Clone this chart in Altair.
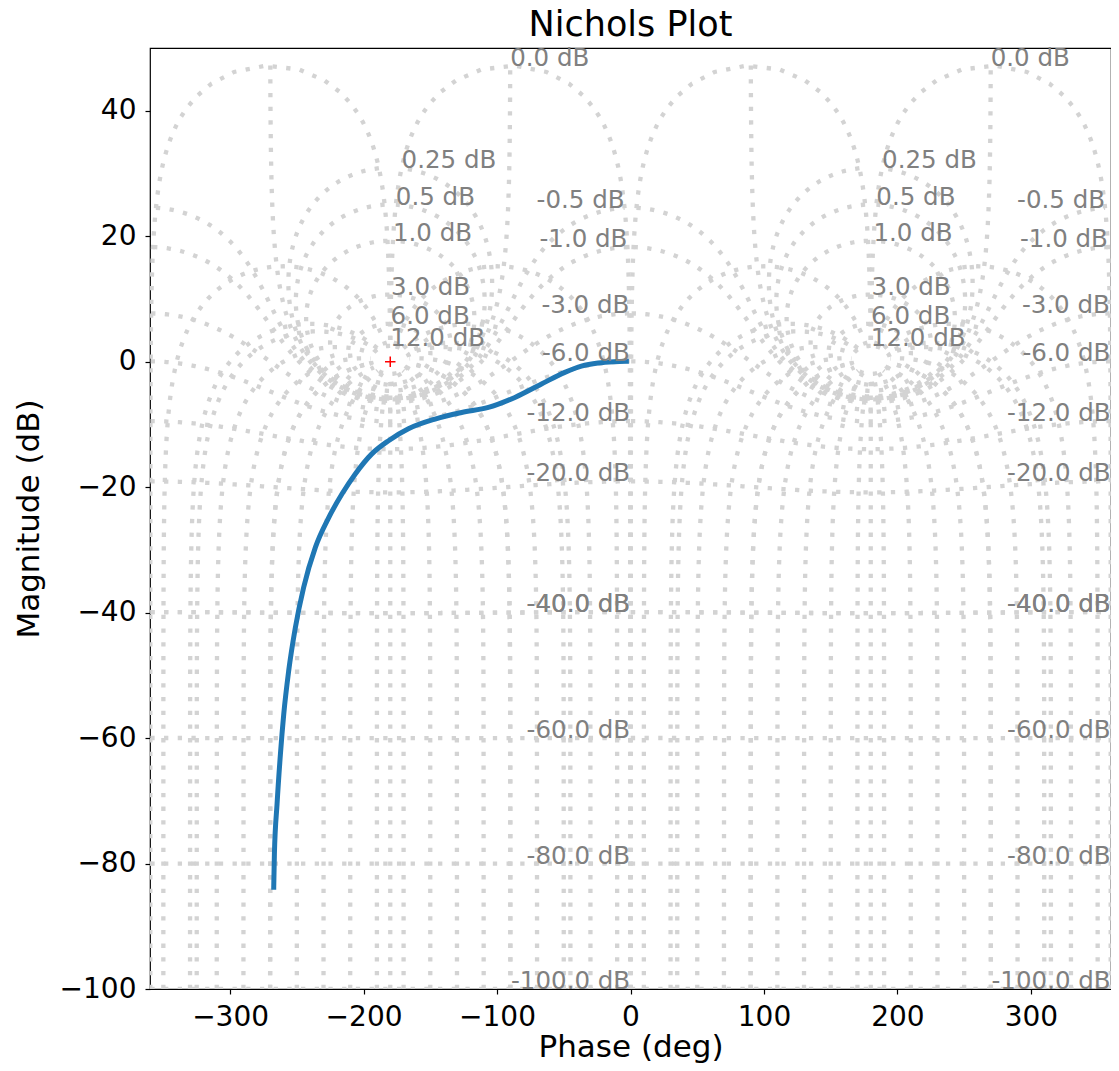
import numpy as np
import pandas as pd
import altair as alt

alt.data_transformers.disable_max_rows()

# ---- open-loop response (phase deg, magnitude dB) ----
resp_phase = [-267.3, -266.8, -264.8, -262.3, -259.8, -256.1, -251.1, -244.9,
              -236.1, -226.2, -216.2, -206.2, -193.8, -181.3, -166.4, -146.4,
              -126.5, -106.5, -86.6, -66.7, -49.2, -36.8, -24.3, -12.0, -3.1]
resp_mag = [-83.8, -78.5, -70.5, -62.6, -56.2, -49.3, -42.4, -36.0,
            -29.6, -24.9, -21.1, -17.9, -14.7, -12.6, -10.7, -9.15,
            -8.1, -7.3, -5.7, -3.56, -1.7, -0.7, -0.2, 0.0, 0.05]

# critical point marker
crit_phase = [-180.0]
crit_mag = [0.0]

# ---- Nichols grid definition (closed-loop magnitudes / phases) ----
cl_mags = [-40.0, -60.0, -80.0, -100.0, -40.0, -20.0, -12.0, -6.0, -3.0,
           -1.0, -0.5, 0.0, 0.25, 0.5, 1.0, 3.0, 6.0, 12.0]
cl_phases = [-0.25, -45.0, -90.0, -180.0, -270.0, -325.0, -359.75,
             -10.0, -30.0, -50.0, -70.0, -90.0, -110.0, -130.0, -150.0,
             -170.0, -190.0, -210.0, -230.0, -250.0, -270.0, -290.0,
             -310.0, -330.0, -350.0]
phase_offsets = [0.0, 360.0]

x_ticks = [-300, -200, -100, 0, 100, 200, 300]
y_ticks = [-100, -80, -60, -40, -20, 0, 20, 40]

W, H = 961, 941
SX = W / 720.0
SY = H / 150.0


def cl_to_ol(gcl):
    return gcl / (1.0 - gcl)


def thin(ph, mg, tol=1.0):
    keep = [0]
    lx, ly = ph[0] * SX, mg[0] * SY
    for i in range(1, len(ph) - 1):
        x, y = ph[i] * SX, mg[i] * SY
        if (x - lx) ** 2 + (y - ly) ** 2 >= tol * tol:
            keep.append(i)
            lx, ly = x, y
    keep.append(len(ph) - 1)
    return ph[keep], mg[keep]


mags_arr = np.array(cl_mags)
phs_arr = np.array(cl_phases)

# M contours
m_ph = np.radians(np.linspace(phs_arr.min(), phs_arr.max(), 2000))
GM, GP = np.meshgrid(10.0 ** (mags_arr / 20.0), m_ph)
m = cl_to_ol(GM * np.exp(1j * GP))
m_mag = 20 * np.log10(np.abs(m))
m_phase = np.mod(np.degrees(np.angle(m)), -360.0)

# N contours
n_r = np.linspace(10 ** (mags_arr.min() / 20.0), 10 ** (mags_arr.max() / 20.0), 2000)
NP, NM = np.meshgrid(np.radians(phs_arr), n_r)
n = cl_to_ol(NM * np.exp(1j * NP))
n_mag = 20 * np.log10(np.abs(n))
n_phase = np.mod(np.degrees(np.angle(n)), -360.0)

rows = []
labels = []
lid = 0
for off in phase_offsets:
    for arr_p, arr_m in ((m_phase, m_mag), (n_phase, n_mag)):
        for k in range(arr_p.shape[1]):
            p, g = thin(arr_p[:, k] + off, arr_m[:, k])
            for j in range(len(p)):
                rows.append((lid, j, float(p[j]), float(g[j])))
            lid += 1
    for k, cm in enumerate(cl_mags):
        labels.append((float(m_phase[-1, k] + off), float(m_mag[-1, k]),
                       f"{cm} dB", "right" if cm < 0 else "left"))

grid_df = pd.DataFrame(rows, columns=["id", "i", "phase", "mag"])
lab_df = pd.DataFrame(labels, columns=["phase", "mag", "text", "side"])
resp_df = pd.DataFrame({"phase": resp_phase, "mag": resp_mag,
                        "i": list(range(len(resp_phase)))})
crit_df = pd.DataFrame({"phase": crit_phase, "mag": crit_mag})

X = alt.X("phase:Q",
          scale=alt.Scale(domain=[-360, 360], nice=False, zero=False),
          axis=alt.Axis(values=x_ticks, format="d", title="Phase (deg)",
                        titleX=W / 2, titleY=67, titleBaseline="alphabetic",
                        titleAlign="center"))
Y = alt.Y("mag:Q",
          scale=alt.Scale(domain=[-100, 50], nice=False, zero=False),
          axis=alt.Axis(values=y_ticks, format="d", title="Magnitude (dB)",
                        titleX=-112, titleY=H / 2, titleAngle=270,
                        titleBaseline="alphabetic", titleAlign="center"))

grid = alt.Chart(grid_df).mark_line(
    clip=True, color="#d3d3d3", strokeWidth=4.3, strokeDash=[4.3, 9.4],
    strokeCap="butt"
).encode(x=X, y=Y, detail="id:N", order="i:Q")

curve = alt.Chart(resp_df).mark_line(
    color="#1f77b4", strokeWidth=5, interpolate="monotone", strokeCap="square"
).encode(x=X, y=Y, order="i:Q")

crit = alt.Chart(crit_df).mark_point(
    shape="M-1,0L1,0M0,-1L0,1", size=110, filled=False, stroke="red",
    strokeWidth=1.5, opacity=1
).encode(x=X, y=Y)

lab_left = alt.Chart(lab_df).transform_filter(alt.datum.side == "left").mark_text(
    align="left", baseline="alphabetic", fontSize=24.5, color="gray",
    font="DejaVu Sans"
).encode(x=X, y=Y, text="text:N")

lab_right = alt.Chart(lab_df).transform_filter(alt.datum.side == "right").mark_text(
    align="right", baseline="alphabetic", fontSize=24.5, color="gray",
    font="DejaVu Sans"
).encode(x=X, y=Y, text="text:N")

chart = alt.layer(grid, curve, crit, lab_left, lab_right).properties(
    width=W, height=H,
    padding={"left": 142, "top": 40, "right": 0, "bottom": 74},
    autosize=alt.AutoSizeParams(type="none"),
    title=alt.TitleParams("Nichols Plot", fontSize=35, font="DejaVu Sans",
                          fontWeight="normal", color="black", anchor="middle",
                          offset=3),
).configure_axis(
    labelFont="DejaVu Sans", labelFontSize=28, labelColor="black",
    titleFont="DejaVu Sans", titleFontSize=31, titleFontWeight="normal",
    titleColor="black", tickColor="black", tickSize=5, tickWidth=1.2,
    labelPadding=9, domain=False, grid=False
).configure_view(stroke="black", strokeWidth=1.2)

chart.save("out.html", embed_options={"renderer": "svg", "actions": False})
